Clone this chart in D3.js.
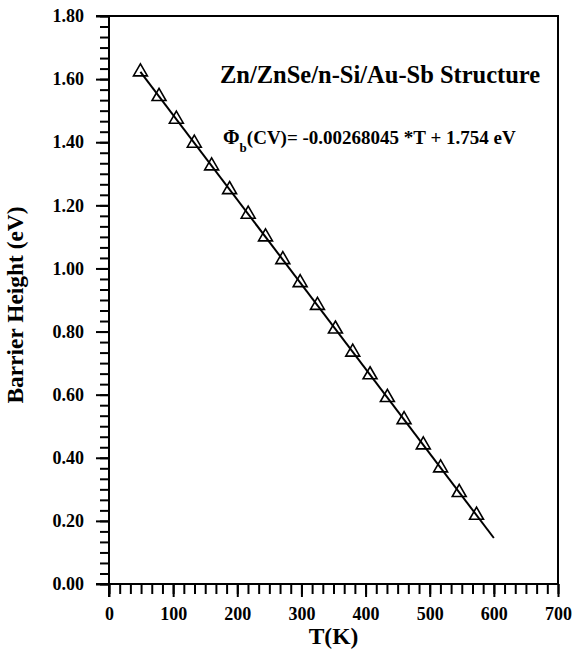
<!DOCTYPE html>
<html>
<head>
<meta charset="utf-8">
<script src="https://cdn.jsdelivr.net/npm/d3@7"></script>
<style>
  html, body { margin: 0; padding: 0; background: #fff; }
  svg { display: block; font-family: "Liberation Serif", "Times New Roman", serif; font-weight: bold; }
</style>
</head>
<body>
<svg id="chart" width="573" height="653"></svg>
<script>
// Measured barrier height vs temperature
const temperatureK = [49, 78, 105, 133, 160, 188, 217, 244, 271, 298, 325, 353, 380, 407, 434, 460, 490, 517, 546, 573];
const barrierEV = [1.623, 1.545, 1.473, 1.397, 1.325, 1.250, 1.172, 1.100, 1.028, 0.955, 0.883, 0.808, 0.735, 0.663, 0.591, 0.521, 0.441, 0.368, 0.290, 0.218];

// Linear fit Φb(CV) = slope*T + intercept, drawn over this temperature span
const fitSlope = -0.00268045;
const fitIntercept = 1.754;
const fitRangeT = [49, 600];

const xTicks = [0, 100, 200, 300, 400, 500, 600, 700];
const yTicks = [0.0, 0.2, 0.4, 0.6, 0.8, 1.0, 1.2, 1.4, 1.6, 1.8];

const titleText = "Zn/ZnSe/n-Si/Au-Sb Structure";
const xTitle = "T(K)";
const yTitle = "Barrier Height (eV)";

const svg = d3.select("#chart");
const plotLeft = 109, plotRight = 558, plotTop = 16, plotBottom = 584;

const x = d3.scaleLinear().domain([0, 700]).range([plotLeft, plotRight]);
const y = d3.scaleLinear().domain([0, 1.8]).range([plotBottom, plotTop]);

const xMinor = d3.range(0, 700 + 1e-6, 100 / 6);
const yMinor = d3.range(0, 1.8 + 1e-6, 0.2 / 6);

// Frame: top and right edges
svg.append("path")
  .attr("d", `M${x(0) - 13},${y(1.8)}H${x(700)}V${y(0)}`)
  .attr("fill", "none").attr("stroke", "#000").attr("stroke-width", 2);

// Minor ticks
svg.append("g")
  .attr("transform", `translate(0,${plotBottom})`)
  .call(d3.axisBottom(x).tickValues(xMinor).tickSize(10).tickFormat(""))
  .call(g => g.select(".domain").remove())
  .call(g => g.selectAll("line").attr("stroke-width", 2));
svg.append("g")
  .attr("transform", `translate(${plotLeft},0)`)
  .call(d3.axisLeft(y).tickValues(yMinor).tickSize(9).tickFormat(""))
  .call(g => g.select(".domain").remove())
  .call(g => g.selectAll("line").attr("stroke-width", 2));

// Major axes
const xAxis = svg.append("g")
  .attr("transform", `translate(0,${plotBottom})`)
  .call(d3.axisBottom(x).tickValues(xTicks).tickSize(13).tickSizeOuter(0).tickPadding(10).tickFormat(d3.format("d")));
const yAxis = svg.append("g")
  .attr("transform", `translate(${plotLeft},0)`)
  .call(d3.axisLeft(y).tickValues(yTicks).tickSize(13).tickSizeOuter(0).tickPadding(12).tickFormat(d3.format(".2f")));

[xAxis, yAxis].forEach(a => {
  a.select(".domain").attr("stroke-width", 2);
  a.selectAll("line").attr("stroke-width", 2);
  a.selectAll("text")
    .attr("font-family", "Liberation Serif, Times New Roman, serif")
    .attr("font-weight", "bold")
    .attr("font-size", 18)
    .attr("fill", "#000");
});
// extend domain lines so the corners close
xAxis.select(".domain").attr("d", `M${plotLeft - 13},0H${plotRight}`);
yAxis.select(".domain").attr("d", `M0,${plotTop}V${plotBottom + 13}`);

// Fit line
const fitLine = d3.line().x(t => x(t)).y(t => y(fitSlope * t + fitIntercept));
svg.append("path")
  .datum(fitRangeT)
  .attr("d", fitLine)
  .attr("fill", "none").attr("stroke", "#000").attr("stroke-width", 2);

// Data markers
const tri = d3.symbol().type(d3.symbolTriangle).size(84);
svg.append("g")
  .selectAll("path")
  .data(temperatureK.map((t, i) => [t, barrierEV[i]]))
  .join("path")
  .attr("transform", d => `translate(${x(d[0])},${y(d[1])})`)
  .attr("d", tri)
  .attr("fill", "none").attr("stroke", "#000").attr("stroke-width", 1.6);

// Title and fit equation
svg.append("text")
  .attr("x", 220).attr("y", 83)
  .attr("font-size", 24.5)
  .text(titleText);

const eq = svg.append("text").attr("x", 223).attr("y", 144).attr("font-size", 19);
eq.append("tspan").attr("font-size", 20).text("Φ");
eq.append("tspan").attr("font-size", 13).attr("dy", 7.5).text("b");
eq.append("tspan").attr("dy", -7.5).text("(CV)= -0.00268045 *T + 1.754 eV");

// Axis titles
svg.append("text")
  .attr("x", (plotLeft + plotRight) / 2).attr("y", 644)
  .attr("text-anchor", "middle")
  .attr("font-size", 23.5)
  .text(xTitle);

svg.append("text")
  .attr("transform", `translate(23,305) rotate(-90)`)
  .attr("text-anchor", "middle")
  .attr("font-size", 23.4)
  .text(yTitle);
</script>
</body>
</html>
